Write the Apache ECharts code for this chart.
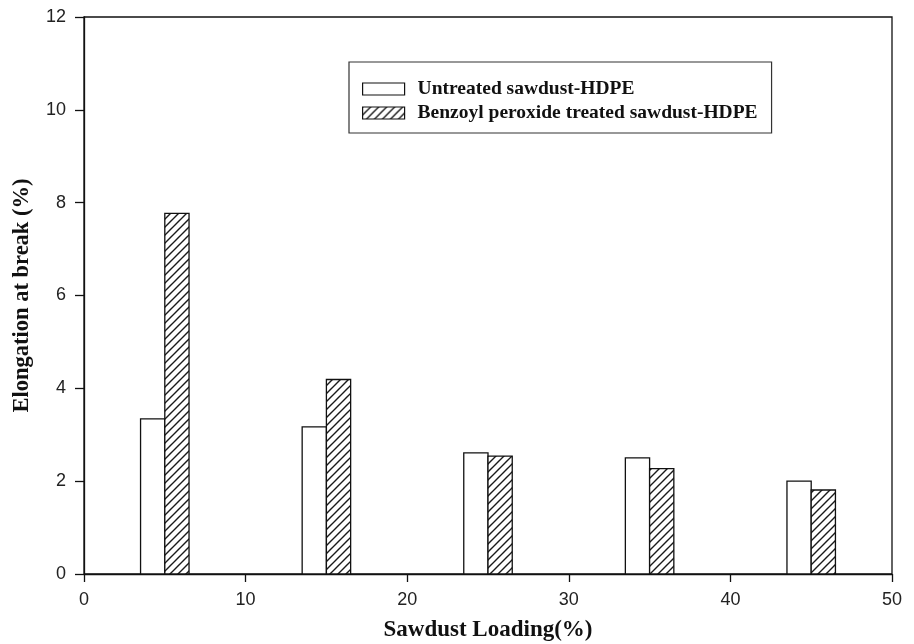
<!DOCTYPE html>
<html>
<head>
<meta charset="utf-8">
<script src="https://cdn.jsdelivr.net/npm/echarts@6/dist/echarts.min.js"></script>
<style>
html,body{margin:0;padding:0;background:#fff;}
#chart{width:914px;height:644px;}
</style>
</head>
<body>
<div id="chart"></div>
<script>
// ---- data ----
const loadings = [5, 15, 25, 35, 45];
const untreated = [3.34, 3.17, 2.61, 2.50, 2.00];
const treated = [7.77, 4.19, 2.54, 2.27, 1.81];
const seriesNames = ['Untreated sawdust-HDPE', 'Benzoyl peroxide treated sawdust-HDPE'];
const xTicks = [0, 10, 20, 30, 40, 50];
const yTicks = [0, 2, 4, 6, 8, 10, 12];

const barSpan = 1.5; // width of each bar in axis units

// hatch pattern
function makeHatch() {
  const c = document.createElement('canvas');
  const s = 8;
  c.width = s; c.height = s;
  const ctx = c.getContext('2d');
  ctx.fillStyle = '#fff';
  ctx.fillRect(0, 0, s, s);
  ctx.strokeStyle = '#1a1a1a';
  ctx.lineWidth = 1.4;
  ctx.beginPath();
  ctx.moveTo(-1, s + 1); ctx.lineTo(s + 1, -1);
  ctx.moveTo(-1, 1); ctx.lineTo(1, -1);
  ctx.moveTo(s - 1, s + 1); ctx.lineTo(s + 1, s - 1);
  ctx.stroke();
  return c;
}
const hatch = { image: makeHatch(), repeat: 'repeat' };

const untreatedData = loadings.map((x, i) => [x - barSpan, x, untreated[i]]);
const treatedData = loadings.map((x, i) => [x, x + barSpan, treated[i]]);

function barRenderer(fill) {
  return function (params, api) {
    const p0 = api.coord([api.value(0), api.value(2)]);
    const p1 = api.coord([api.value(1), 0]);
    return {
      type: 'rect',
      shape: { x: p0[0], y: p0[1], width: p1[0] - p0[0], height: p1[1] - p0[1] },
      style: { fill: fill, stroke: '#111', lineWidth: 1.3 }
    };
  };
}

const chart = echarts.init(document.getElementById('chart'), null, { renderer: 'canvas' });
const option = {
  backgroundColor: '#fff',
  animation: false,
  grid: { left: 84, right: 22, top: 17, bottom: 70, containLabel: false, outerBoundsMode: 'none', show: true, borderColor: '#111', borderWidth: 1.3, backgroundColor: 'transparent' },
  legend: {
    orient: 'vertical',
    left: 349, top: 62,
    padding: [17, 14, 10, 13],
    borderColor: '#333', borderWidth: 1.2,
    itemWidth: 42, itemHeight: 12, itemGap: 4,
    selectedMode: false,
    textStyle: { fontFamily: 'Liberation Serif', fontWeight: 'bold', fontSize: 19.5, color: '#111', padding: [0, 0, 0, 8] },
    data: [
      { name: seriesNames[0], icon: 'rect', itemStyle: { color: '#fff', borderColor: '#111', borderWidth: 1.2 } },
      { name: seriesNames[1], icon: 'rect', itemStyle: { color: hatch, borderColor: '#111', borderWidth: 1.2 } }
    ]
  },
  xAxis: {
    type: 'value', min: 0, max: 50, interval: 10,
    name: 'Sawdust Loading(%)', nameLocation: 'middle', nameGap: 45,
    nameTextStyle: { fontFamily: 'Liberation Serif', fontWeight: 'bold', fontSize: 23, color: '#111' },
    axisLine: { show: true, onZero: false, lineStyle: { color: '#111', width: 1.3 } },
    axisTick: { show: true, inside: false, length: 8, lineStyle: { color: '#111', width: 1.3 } },
    axisLabel: { margin: 17, fontFamily: 'Liberation Sans', fontSize: 18, color: '#222', formatter: v => xTicks.includes(v) ? String(v) : '' },
    splitLine: { show: false }
  },
  yAxis: {
    type: 'value', min: 0, max: 12, interval: 2,
    name: 'Elongation at break (%)', nameLocation: 'middle', nameGap: 50, nameRotate: 90,
    nameTextStyle: { fontFamily: 'Liberation Serif', fontWeight: 'bold', fontSize: 22.5, color: '#111' },
    axisLine: { show: true, lineStyle: { color: '#111', width: 1.3 } },
    axisTick: { show: true, inside: false, length: 9, lineStyle: { color: '#111', width: 1.3 } },
    axisLabel: { margin: 18, fontFamily: 'Liberation Sans', fontSize: 18, color: '#222', formatter: v => yTicks.includes(v) ? String(v) : '' },
    splitLine: { show: false }
  },
  series: [
    {
      name: seriesNames[0], type: 'custom',
      itemStyle: { color: '#fff', borderColor: '#111' },
      renderItem: barRenderer('#fff'),
      encode: { x: [0, 1], y: 2 },
      data: untreatedData
    },
    {
      name: seriesNames[1], type: 'custom',
      itemStyle: { color: hatch, borderColor: '#111' },
      renderItem: barRenderer(hatch),
      encode: { x: [0, 1], y: 2 },
      data: treatedData
    }
  ]
};
chart.setOption(option);
</script>
</body>
</html>
